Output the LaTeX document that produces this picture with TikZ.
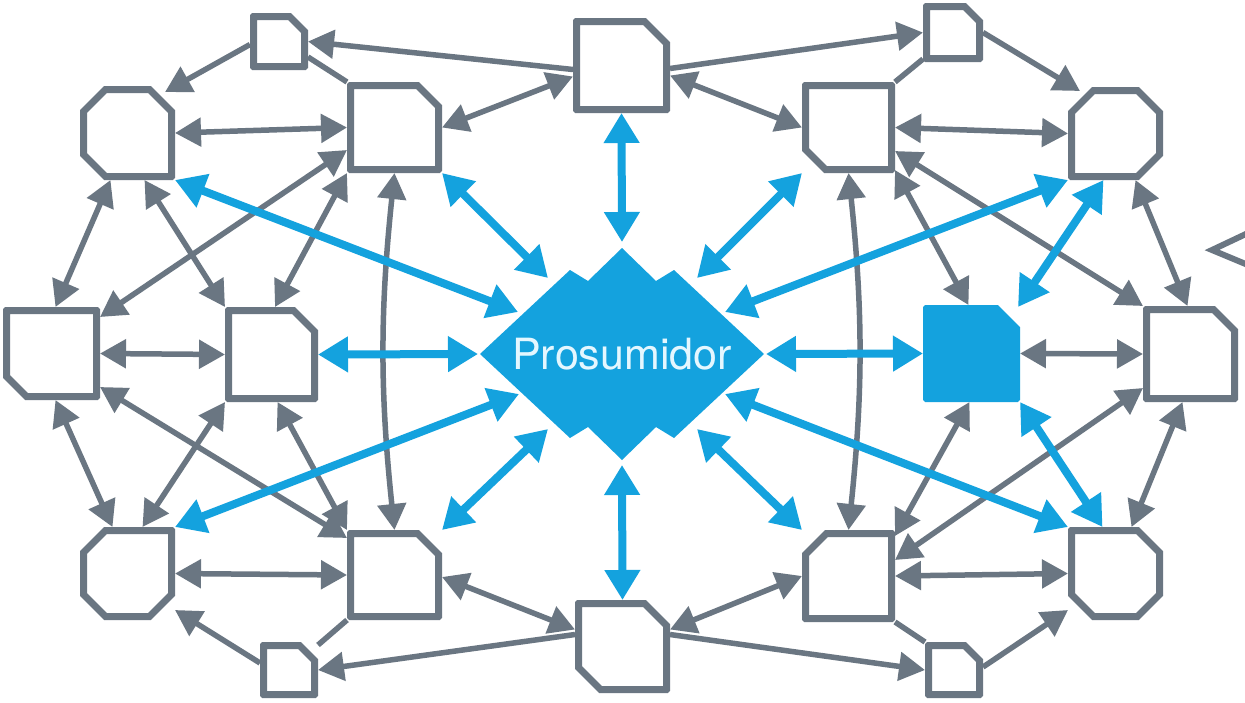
\documentclass[tikz,border=0pt]{standalone}
\usepackage{fontspec}
\setsansfont{TeX Gyre Heros}
\usetikzlibrary{arrows.meta}
\definecolor{gry}{RGB}{106,118,130}
\definecolor{blu}{RGB}{20,162,222}
\definecolor{txt}{RGB}{228,247,255}
\newcommand\nhw{3.5}
\newcommand\shp[6][nodeline]{%
 \draw[#1] ([shift={(\nhw+#3,\nhw)}]#2.north west)
 -- ([shift={(-\nhw-#4,\nhw)}]#2.north east)
 -- ([shift={(-\nhw,\nhw+#4)}]#2.north east)
 -- ([shift={(-\nhw,-\nhw-#5)}]#2.south east)
 -- ([shift={(-\nhw-#5,-\nhw)}]#2.south east)
 -- ([shift={(\nhw+#6,-\nhw)}]#2.south west)
 -- ([shift={(\nhw,-\nhw-#6)}]#2.south west)
 -- ([shift={(\nhw,\nhw+#3)}]#2.north west) -- cycle;}
\tikzset{
 box/.style={rectangle, draw=none, inner sep=0pt, outer sep=0pt},
 nodeline/.style={draw=gry, line width=7pt, line join=miter, fill=white},
 bluefill/.style={draw=blu, line width=7pt, line join=miter, fill=blu},
 gtip/.tip={Triangle[length=26pt,width=28pt]},
 btip/.tip={Triangle[length=30pt,width=34pt]},
 gedge/.style={draw=gry, line width=5.5pt, -gtip},
 gboth/.style={draw=gry, line width=5.5pt, gtip-gtip},
 bboth/.style={draw=blu, line width=8pt, btip-btip},
 plain/.style={draw=gry, line width=5.5pt},
 ptext/.style={inner sep=0pt, text=txt, font=\sffamily\fontsize{43pt}{50pt}\selectfont},
}
\begin{document}
\begin{tikzpicture}[x=1pt,y=-1pt]
\useasboundingbox (0,0) rectangle (1245,702);
\clip (0,0) rectangle (1245,702);
\fill[white] (0,0) rectangle (1245,702);
% node boxes
\node[box, minimum width=58pt, minimum height=57pt] (TS1) at (279,41.5) {};
\node[box, minimum width=95pt, minimum height=94pt] (O1) at (127.5,133) {};
\node[box, minimum width=95pt, minimum height=91pt] (B1) at (394.5,127.5) {};
\node[box, minimum width=97pt, minimum height=95pt] (T) at (621.5,65.5) {};
\node[box, minimum width=60pt, minimum height=59pt] (TS2) at (953,32.5) {};
\node[box, minimum width=93pt, minimum height=91pt] (B3) at (848.5,127.5) {};
\node[box, minimum width=95pt, minimum height=93pt] (O3) at (1115.5,133.5) {};
\node[box, minimum width=97pt, minimum height=93pt] (L1) at (51.5,353.5) {};
\node[box, minimum width=93pt, minimum height=95pt] (L2) at (271.5,354.5) {};
\node[box, minimum width=97pt, minimum height=97pt] (F) at (971.5,353.5) {};
\node[box, minimum width=95pt, minimum height=96pt] (R1) at (1190.5,354) {};
\node[box, minimum width=95pt, minimum height=93pt] (O2) at (127.5,573.5) {};
\node[box, minimum width=95pt, minimum height=90pt] (B2) at (394.5,575) {};
\node[box, minimum width=95pt, minimum height=93pt] (Bot) at (622.5,646.5) {};
\node[box, minimum width=93pt, minimum height=92pt] (B4) at (848.5,576) {};
\node[box, minimum width=95pt, minimum height=93pt] (O4) at (1115.5,573.5) {};
\node[box, minimum width=58pt, minimum height=56pt] (BS1) at (289,670) {};
\node[box, minimum width=58pt, minimum height=56pt] (BS2) at (954,670) {};
% central diamond
\coordinate (Pc) at (622,354);
\begin{scope}[shift={(Pc)}]
\fill[blu] (-142,0) -- (-52,-84) -- (-34,-73) -- (0,-106) -- (34,-73) -- (52,-84)
 -- (142,0) -- (52,84) -- (34,73) -- (0,106) -- (-34,73) -- (-52,84) -- cycle;
\end{scope}
\node[ptext] (P) at (Pc) {Prosumidor};
% gray connectors, left
\draw[gedge] ([shift={(0,4)}]T.west) -- (TS1.east);
\draw[gedge] ([shift={(0,3)}]TS1.west) -- ([shift={(-10,6)}]O1.north east);
\draw[plain] ([shift={(0,-13)}]TS1.south east) -- (B1.north west);
\draw[gboth] (O1.east) -- (B1.west);
\draw[gboth] (B1.east) -- ([shift={(0,11)}]T.west);
\draw[gboth] ([shift={(0,10)}]L1.north east) -- ([shift={(0,-23)}]B1.south west);
\draw[gboth] ([shift={(50,0)}]L2.north west) -- (B1.south west);
\draw[gboth] (B1.south) to[bend right=6] (B2.north);
\draw[gboth] ([shift={(4,0)}]L1.north) -- ([shift={(-17,0)}]O1.south);
\draw[gboth] ([shift={(17,0)}]O1.south) -- (L2.north west);
\draw[gboth] (L1.east) -- (L2.west);
\draw[gboth] ([shift={(4,0)}]L1.south) -- ([shift={(-15,0)}]O2.north);
\draw[gboth] ([shift={(0,-13)}]L1.south east) -- ([shift={(0,8)}]B2.north west);
\draw[gboth] ([shift={(15,0)}]O2.north) -- (L2.south west);
\draw[gboth] ([shift={(6,0)}]L2.south) -- (B2.north west);
\draw[gboth] (O2.east) -- (B2.west);
\draw[gedge] ([shift={(0,-7)}]BS1.west) -- ([shift={(0,-10)}]O2.south east);
\draw[plain] ([shift={(0,3)}]BS1.north east) -- (B2.south west);
\draw[gedge] ([shift={(0,-12)}]Bot.west) -- (BS1.east);
\draw[gboth] ([shift={(0,2)}]B2.east) -- ([shift={(0,-17)}]Bot.west);
% gray connectors, right
\draw[gedge] ([shift={(0,3)}]T.east) -- (TS2.west);
\draw[gedge] (TS2.east) -- ([shift={(12,4)}]O3.north west);
\draw[plain] ([shift={(0,-3)}]TS2.south west) -- (B3.north east);
\draw[gboth] ([shift={(0,10)}]T.east) -- (B3.west);
\draw[gboth] (B3.east) -- (O3.west);
\draw[gboth] (B3.south) to[bend left=6] (B4.north);
\draw[gboth] ([shift={(-3,0)}]F.north) -- ([shift={(0,-3)}]B3.south east);
\draw[gboth] (R1.north west) -- ([shift={(0,-22)}]B3.south east);
\draw[gboth] ([shift={(20,0)}]O3.south) -- ([shift={(-3,0)}]R1.north);
\draw[gboth] (F.east) -- (R1.west);
\draw[gboth] ([shift={(-2,0)}]F.south) -- ([shift={(0,6)}]B4.north east);
\draw[gboth] ([shift={(0,-14)}]R1.south west) -- ([shift={(0,30)}]B4.north east);
\draw[gboth] ([shift={(-8,0)}]R1.south) -- ([shift={(16,0)}]O4.north);
\draw[gboth] (B4.east) -- (O4.west);
\draw[gedge] ([shift={(0,-3)}]BS2.east) -- ([shift={(0,-10)}]O4.south west);
\draw[gedge] ([shift={(0,-12)}]Bot.east) -- (BS2.west);
\draw[gboth] ([shift={(0,-17)}]Bot.east) -- (B4.west);
\draw[plain] (BS2.north west) -- (B4.south east);
% blue connectors
\draw[bboth] (O1.south east) -- ([shift={(-104,-42)}]P.center);
\draw[bboth] (B1.south east) -- ([shift={(-74,-76)}]P.center);
\draw[bboth] (T.south) -- ([shift={(0,-112)}]P.center);
\draw[bboth] (B3.south west) -- ([shift={(75,-76)}]P.center);
\draw[bboth] (O3.south west) -- ([shift={(103,-42)}]P.center);
\draw[bboth] (L2.east) -- ([shift={(-144,0)}]P.center);
\draw[bboth] (F.west) -- ([shift={(144,0)}]P.center);
\draw[bboth] (O2.north east) -- ([shift={(-103,40)}]P.center);
\draw[bboth] (B2.north east) -- ([shift={(-74,75)}]P.center);
\draw[bboth] (Bot.north) -- ([shift={(0,111)}]P.center);
\draw[bboth] (B4.north west) -- ([shift={(75,75)}]P.center);
\draw[bboth] (O4.north west) -- ([shift={(103,40)}]P.center);
\draw[bboth] ([shift={(-2,2)}]F.north east) -- ([shift={(-12,0)}]O3.south);
\draw[bboth] (F.south east) -- ([shift={(-13,0)}]O4.north);
% node outlines
\shp{TS1}{0.01}{15}{0.01}{0.01}
\shp{O1}{22}{22}{0.01}{22}
\shp{B1}{0.01}{21}{0.01}{0.01}
\shp{T}{0.01}{22}{0.01}{0.01}
\shp{TS2}{0.01}{15}{0.01}{0.01}
\shp{B3}{0.01}{0.01}{0.01}{20}
\shp{O3}{22}{22}{22}{0.01}
\shp{L1}{0.01}{0.01}{0.01}{20}
\shp{L2}{0.01}{21}{0.01}{0.01}
\shp[bluefill]{F}{0.01}{20}{0.01}{0.01}
\shp{R1}{0.01}{21}{0.01}{0.01}
\shp{O2}{22}{0.01}{22}{22}
\shp{B2}{0.01}{21}{0.01}{0.01}
\shp{Bot}{0.01}{22}{0.01}{22}
\shp{B4}{21}{0.01}{0.01}{0.01}
\shp{O4}{0.01}{22}{22}{22}
\shp{BS1}{0.01}{15}{0.01}{0.01}
\shp{BS2}{0.01}{15}{0.01}{0.01}
% partial shape at the right edge
\draw[gry, line width=6pt, line join=miter] (1248,233) -- (1212,250) -- (1248,265);
\end{tikzpicture}
\end{document}
